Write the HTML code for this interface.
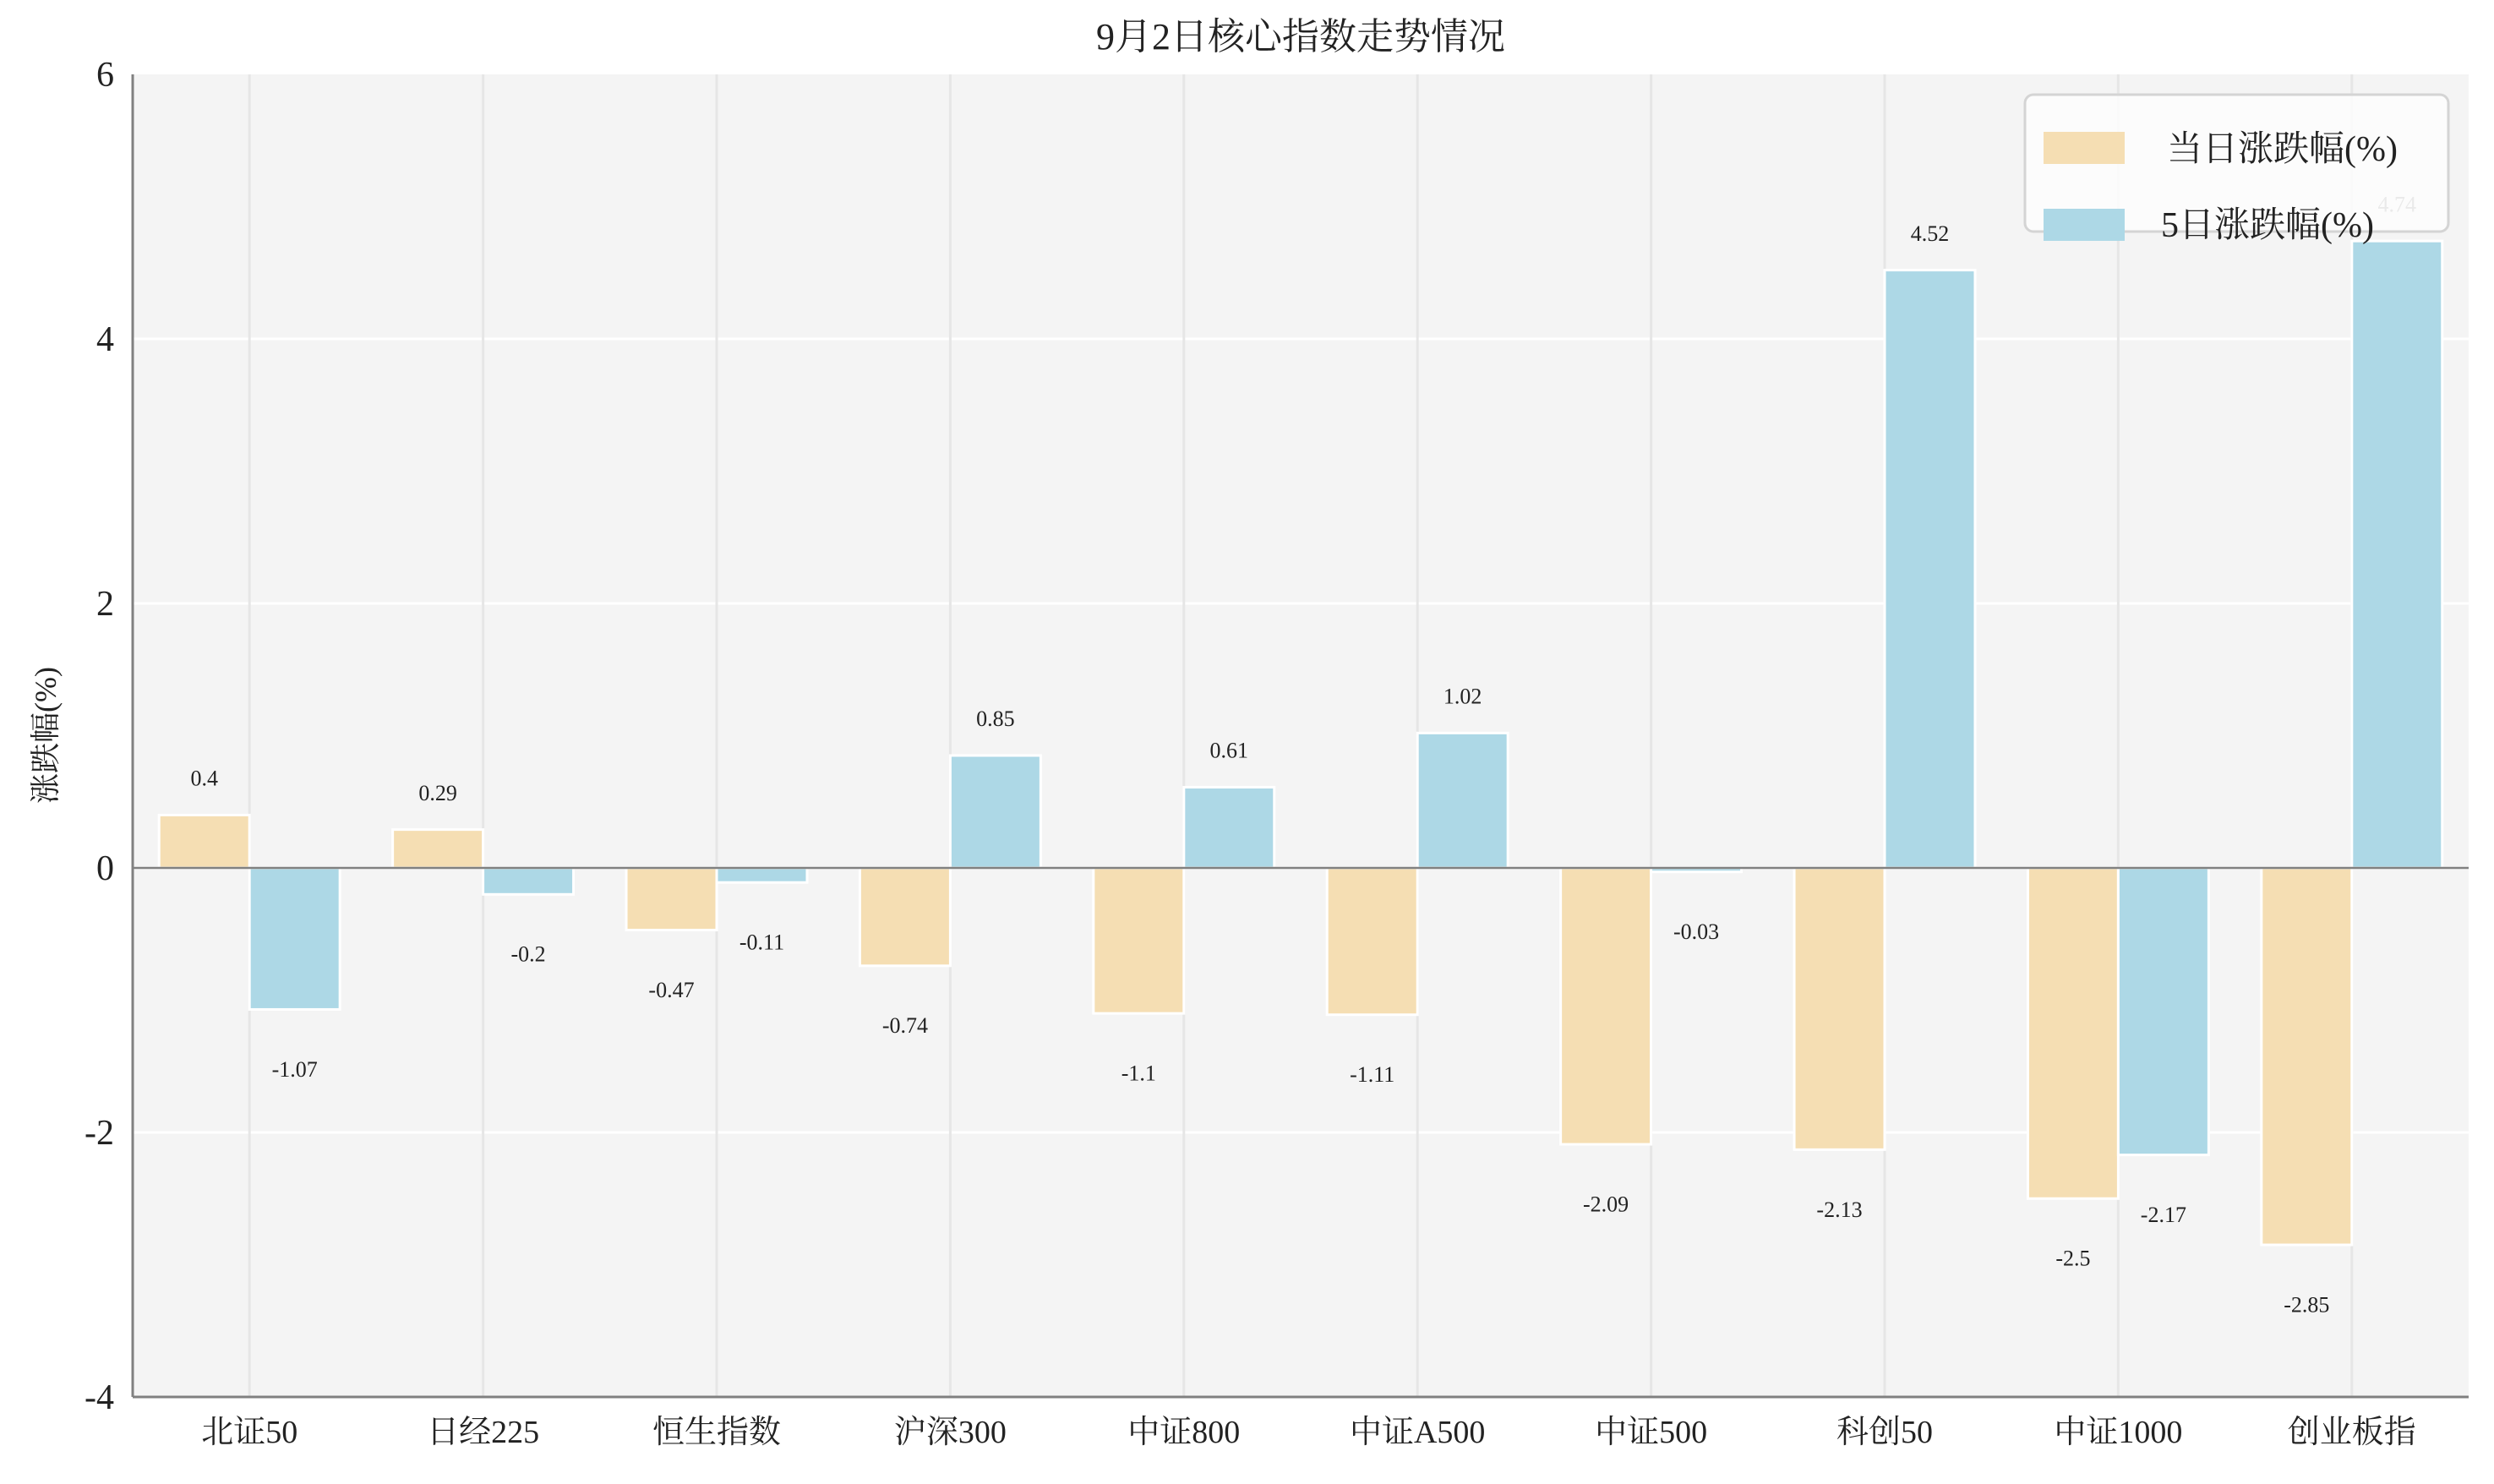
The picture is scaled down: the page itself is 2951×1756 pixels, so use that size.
<!DOCTYPE html>
<html><head><meta charset="utf-8"><style>
html,body{margin:0;padding:0;background:#fff;}
svg text{font-family:"Liberation Serif","Noto Serif CJK SC",serif;fill:#222;}
</style></head><body>
<svg id="chart" width="2951" height="1751" viewBox="0 0 2951 1751" xmlns="http://www.w3.org/2000/svg">
<text x="1539" y="58" font-size="44" text-anchor="middle">9月2日核心指数走势情况</text>
<rect x="157" y="88" width="2764" height="1565" fill="#f4f4f4"/>
<g id="grid"></g>
<g id="bars"></g>
<g id="labels"></g>
<line id="zero" x1="157" x2="2921" stroke="#808080" stroke-width="2.5"/>
<line x1="157" y1="88" x2="157" y2="1653" stroke="#808080" stroke-width="3"/>
<line x1="157" y1="1653" x2="2921" y2="1653" stroke="#808080" stroke-width="3"/>
<g id="ticks"></g>
<text transform="translate(66,870) rotate(-90)" font-size="36" text-anchor="middle">涨跌幅(%)</text>
<g>
<rect x="2396" y="112" width="501" height="162" rx="10" fill="#fcfcfc" fill-opacity="0.92" stroke="#d4d4d4" stroke-width="3"/>
<rect x="2418" y="156" width="96" height="38" fill="#F5DEB3"/>
<text x="2564" y="190" font-size="42">当日涨跌幅(%)</text>
<rect x="2418" y="247" width="96" height="38" fill="#ADD8E6"/>
<text x="2557" y="280" font-size="42">5日涨跌幅(%)</text>
</g>
</svg>
<script>
const categories=["北证50","日经225","恒生指数","沪深300","中证800","中证A500","中证500","科创50","中证1000","创业板指"];
const dailyValues=[0.4,0.29,-0.47,-0.74,-1.1,-1.11,-2.09,-2.13,-2.5,-2.85];
const fiveDayValues=[-1.07,-0.2,-0.11,0.85,0.61,1.02,-0.03,4.52,-2.17,4.74];
const yTicks=[-4,-2,0,2,4,6];
const NS="http://www.w3.org/2000/svg";
const L=157,R=2921,T=88,B=1653,ymin=-4,ymax=6;
const step=(R-L)/categories.length;
function xc(i){return L+step*(i+0.5);}
function y(v){return T+(ymax-v)/(ymax-ymin)*(B-T);}
const bw=step*0.387;
function mk(tag,attrs,parent){const e=document.createElementNS(NS,tag);for(const k in attrs)e.setAttribute(k,attrs[k]);document.getElementById(parent).appendChild(e);return e;}
document.getElementById('zero').setAttribute('y1',y(0));
document.getElementById('zero').setAttribute('y2',y(0));
yTicks.forEach(t=>{
  if(t>ymin&&t<ymax){const g=mk('line',{x1:L,x2:R,y1:y(t),y2:y(t),stroke:'#ffffff','stroke-width':3},'grid');
  
  }
  const tx=mk('text',{x:L-22,y:y(t)+14,'font-size':42,'text-anchor':'end'},'ticks');
  
  
  tx.textContent=t;
});
categories.forEach((c,i)=>{
  const g=mk('line',{x1:xc(i),x2:xc(i),y1:T,y2:B,stroke:'#e6e6e6','stroke-width':3},'grid');
  
  
  const tx=mk('text',{x:xc(i),y:1707,'font-size':38,'text-anchor':'middle'},'ticks');
  
  
  tx.textContent=c;
  [[dailyValues[i],xc(i)-bw,'#F5DEB3','bar-daily'],[fiveDayValues[i],xc(i),'#ADD8E6','bar-5day']].forEach(([v,x0,col,nm])=>{
    const b=mk('rect',{x:x0,y:Math.min(y(v),y(0)),width:bw,height:Math.abs(y(v)-y(0)),fill:col,stroke:'#fff','stroke-width':3},'bars');
    
    
    const ly=v>=0?y(v+0.28)+9:y(v-0.45)+9;
    const lb=mk('text',{x:x0+bw/2,y:ly,'font-size':26,'text-anchor':'middle'},'labels');
    
    
    lb.textContent=v;
  });
});
</script>
</body></html>
